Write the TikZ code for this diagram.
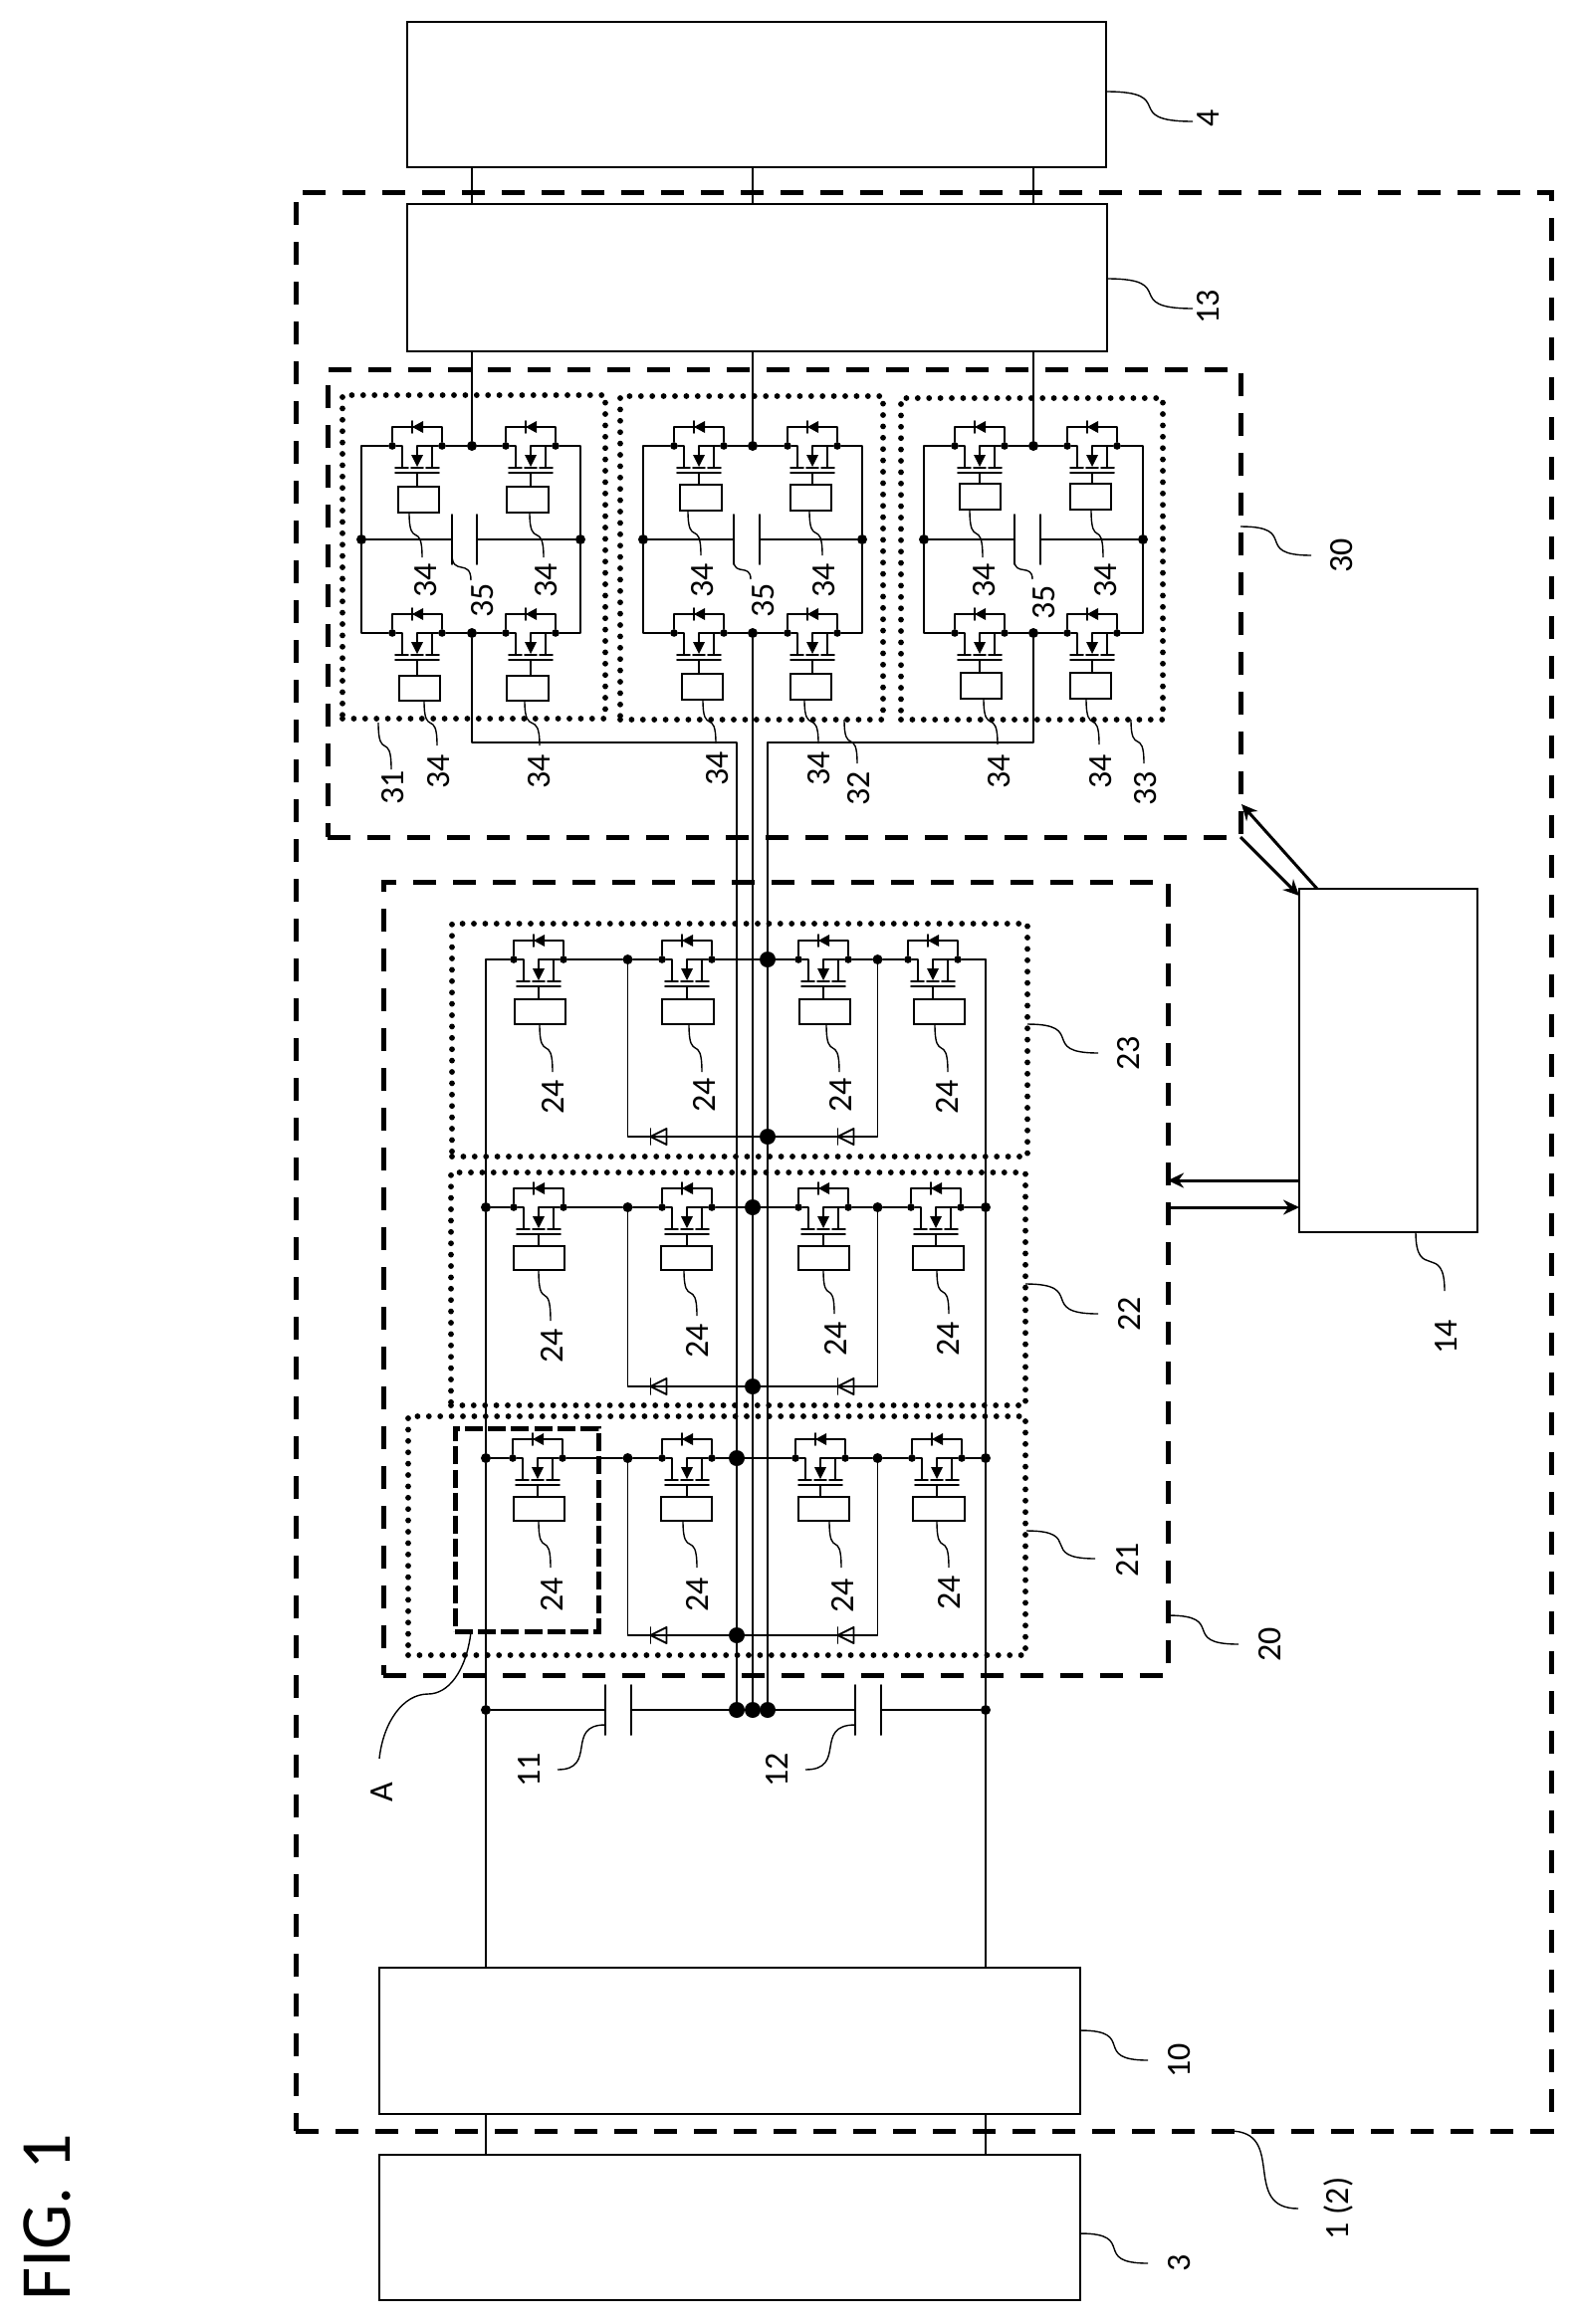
\documentclass[tikz,border=0pt]{standalone}
\usepackage{fontspec}
\setmainfont{Carlito}
\usetikzlibrary{arrows.meta}
\newcounter{ldc}
\tikzset{
  wire/.style={line width=.95pt,line cap=round,line join=round},
  thinwire/.style={line width=.8pt},
  blk/.style={draw,line width=1pt,inner sep=0pt,fill=white},
  drvbox/.style={draw,line width=.95pt,inner sep=0pt},
  sdot/.style={circle,fill=black,inner sep=0pt,minimum size=3.8pt},
  mdot/.style={circle,fill=black,inner sep=0pt,minimum size=5pt},
  bdot/.style={circle,fill=black,inner sep=0pt,minimum size=8pt},
  dashbox/.style={draw,line width=2.5pt,dash pattern=on 11.5pt off 8.5pt},
  dashA/.style={draw,line width=2.5pt,dash pattern=on 9pt off 2.6pt},
  dotbox/.style={draw,line width=2.9pt,dash pattern=on 0pt off 5.7pt,line cap=round},
  leader/.style={line width=.7pt},
  sig/.style={line width=1.5pt,-{Stealth[length=8pt,width=7.5pt]}},
  lbl/.style={rotate=90,inner sep=0pt,text height=10.8pt,text depth=0pt,font=\fontsize{17}{17}\selectfont},
}
% rectangle node from corners
\newcommand\blk[6][blk]{\node[#1,minimum width={(#5-#3)*0.5pt},minimum height={(#6-#4)*0.5pt}] (#2) at ({(#3+#5)/2},{(#4+#6)/2}) {};}
% switching element with body diode
\newcommand\mosfet[3]{%
  \node[sdot] (#1L) at (#2-25,#3) {};
  \node[sdot] (#1R) at (#2+25,#3) {};
  \coordinate (#1dt) at (#2,#3-19);
  \coordinate (#1s) at (#2-15,#3+22);
  \coordinate (#1c) at (#2,#3);
  \coordinate (#1a) at (#2,#3+10);
  \coordinate (#1d) at (#2+15,#3);
  \coordinate (#1e) at (#2+15,#3+22);
  \coordinate (#1G) at (#2,#3+27);
  \draw[wire] (#1L) |- (#1dt) -| (#1R);
  \fill (#2-5,#3-19) -- (#2+6,#3-25) -- (#2+6,#3-13) -- cycle;
  \draw[wire] (#2-5,#3-25) -- (#2-5,#3-13);
  \draw[wire] (#1L) -| (#1s);
  \draw[wire] (#1R) -- (#1c) -- (#1a);
  \draw[wire] (#1d) -- (#1e);
  \fill (#2,#3+21) -- (#2-6,#3+9) -- (#2+6,#3+9) -- cycle;
  \draw[wire] (#2-22,#3+22) -- (#2-9,#3+22) (#2-6,#3+22) -- (#2+6,#3+22) (#2+9,#3+22) -- (#2+22,#3+22);
  \draw[wire] (#2-22,#3+27) -- (#2+22,#3+27);
}
% driver box with gate connection
\newcommand\drv[5]{\blk[drvbox]{#1D}{#2}{#3}{#4}{#5}\draw[wire] (#1G) -- (#1G |- #1D.north);}
% labels and leaders
\newcommand\lab[3]{\stepcounter{ldc}\node[lbl] (t\theldc) at (#1,#2) {#3};}
\newcommand\vlead[4]{\stepcounter{ldc}\coordinate (l\theldc a) at (#1,#2);\coordinate (l\theldc b) at (#3,#4);
  \draw[leader] (l\theldc a) .. controls (#1,{#2+0.85*(#4-#2)}) and (#3,{#4-0.85*(#4-#2)}) .. (l\theldc b);}
\newcommand\hlead[4]{\stepcounter{ldc}\coordinate (l\theldc a) at (#1,#2);\coordinate (l\theldc b) at (#3,#4);
  \draw[leader] (l\theldc a) .. controls ({#1+0.85*(#3-#1)},#2) and ({#3-0.85*(#3-#1)},#4) .. (l\theldc b);}
% wiring of a DC/DC bridge
\newcommand\dcwires[6]{%
  \node[mdot] (#1ML) at (#2,542) {};
  \node[mdot] (#1MR) at (#4,542) {};
  \node[mdot] (#1TC) at (#3,448) {};
  \node[mdot] (#1BC) at (#3,636) {};
  \coordinate (#1C1) at (#5,542);
  \coordinate (#1C2) at (#6,542);
  \draw[wire] (#1TLR) -- (#1TC) -- (#1TRL);
  \draw[wire] (#1BLR) -- (#1BC) -- (#1BRL);
  \draw[wire] (#1TLL) -| (#1ML) |- (#1BLL);
  \draw[wire] (#1TRR) -| (#1MR) |- (#1BRR);
  \draw[wire] (#1ML) -- (#1C1) (#1C2) -- (#1MR);
  \draw[wire] (#5,517) -- (#5,567) (#6,517) -- (#6,567);
}
% open diode on a bottom rail
\newcommand\rdiode[2]{%
  \draw[wire] (#1-8,#2-8) -- (#1-8,#2+8);
  \draw[wire] (#1-8,#2) -- (#1+8,#2-8) -- (#1+8,#2+8) -- cycle;
}
% wiring of a three-level inverter leg
\newcommand\invwires[4]{%
  \node[mdot] (#1I1) at (630.5,#2) {};
  \node[mdot] (#1I2) at (881.5,#2) {};
  \node[bdot] (#1B) at (#4,#2) {};
  \node[bdot] (#1E) at (#4,#3) {};
  \draw[wire] (#1m1R) -- (#1I1) -- (#1m2L);
  \draw[wire] (#1m2R) -- (#1B) -- (#1m3L);
  \draw[wire] (#1m3R) -- (#1I2) -- (#1m4L);
  \draw[wire] (#1I1) |- (#1E);
  \draw[wire] (#1I2) |- (#1E);
  \rdiode{661.5}{#3}
  \rdiode{849.5}{#3}
  \draw[wire] (#1O1) -- (#1m1L);
  \draw[wire] (#1m4R) -- (#1O2);
}
\begin{document}
\begin{tikzpicture}[x=0.5pt,y=-0.5pt]
\fill[white] (0,0) rectangle (1581,2335);
\useasboundingbox (0,0) rectangle (1581,2335);

% title
\node[rotate=90,inner sep=0pt,text height=22.5pt,text depth=0pt,font=\fontsize{36}{36}\selectfont] (fig) at (48,2228) {FIG. 1};

% dashed frames
\node[dashbox,minimum width={(1558-297)*0.5pt},minimum height={(2141-193)*0.5pt}] (frame1) at ({(297+1558)/2},{(193+2141)/2}) {};
\node[dashbox,minimum width={(1246-329)*0.5pt},minimum height={(841-371)*0.5pt}] (frame30) at ({(329+1246)/2},{(371+841)/2}) {};
\node[dashbox,minimum width={(1173-385)*0.5pt},minimum height={(1683-886)*0.5pt}] (frame20) at ({(385+1173)/2},{(886+1683)/2}) {};

% dotted groups
\node[dotbox,minimum width={264*0.5pt},minimum height={325*0.5pt}] (g31) at ({344+132},{397+162.5}) {};
\node[dotbox,minimum width={264*0.5pt},minimum height={325*0.5pt}] (g32) at ({623+132},{398+162.5}) {};
\node[dotbox,minimum width={263*0.5pt},minimum height={323*0.5pt}] (g33) at ({905+131.5},{400+161.5}) {};
\node[dotbox,minimum width={578*0.5pt},minimum height={234*0.5pt}] (g23) at ({454+289},{928+117}) {};
\node[dotbox,minimum width={577*0.5pt},minimum height={234*0.5pt}] (g22) at ({453+288.5},{1178+117}) {};
\node[dotbox,minimum width={620*0.5pt},minimum height={240*0.5pt}] (g21) at ({410+310},{1423+120}) {};
\node[dashA,minimum width={144*0.5pt},minimum height={204*0.5pt}] (frameA) at ({457+72},{1435+102}) {};

% main boxes
\blk{b4}{409}{22}{1111}{168}
\blk{b13}{409}{205}{1112}{353}
\blk{b10}{381}{1977}{1085}{2124}
\blk{b3}{381}{2165}{1085}{2311}
\blk{b14}{1305}{893}{1484}{1238}

% box 4 to box 13, box 13 to bridges
\draw[wire] (b4.south -| 474,0) -- (b13.north -| 474,0);
\draw[wire] (b4.south -| 756,0) -- (b13.north -| 756,0);
\draw[wire] (b4.south -| 1038,0) -- (b13.north -| 1038,0);

% DC/DC bridge 31
\mosfet{p1TL}{419}{448}\mosfet{p1TR}{533}{448}\mosfet{p1BL}{419}{636}\mosfet{p1BR}{533}{636}
\drv{p1TL}{400}{489}{441}{515}\drv{p1TR}{509}{489}{551}{515}\drv{p1BL}{401}{679}{442}{704}\drv{p1BR}{509}{679}{551}{704}
\dcwires{p1}{363}{474}{583}{454}{479}
% DC/DC bridge 32
\mosfet{p2TL}{702}{448}\mosfet{p2TR}{816}{448}\mosfet{p2BL}{702}{636}\mosfet{p2BR}{816}{636}
\drv{p2TL}{683}{487}{725}{513}\drv{p2TR}{794}{487}{835}{513}\drv{p2BL}{685}{677}{726}{703}\drv{p2BR}{794}{677}{835}{703}
\dcwires{p2}{646}{756}{866}{737}{763}
% DC/DC bridge 33
\mosfet{p3TL}{984}{448}\mosfet{p3TR}{1097}{448}\mosfet{p3BL}{984}{636}\mosfet{p3BR}{1097}{636}
\drv{p3TL}{964}{486}{1005}{512}\drv{p3TR}{1075}{486}{1116}{512}\drv{p3BL}{965}{676}{1006}{702}\drv{p3BR}{1075}{676}{1116}{702}
\dcwires{p3}{928}{1038}{1148}{1019}{1045}
\draw[wire] (b13.south -| p1TC) -- (p1TC);
\draw[wire] (b13.south -| p2TC) -- (p2TC);
\draw[wire] (b13.south -| p3TC) -- (p3TC);

% neutral capacitor row nodes
\node[mdot] (c488) at (488,1718) {};
\node[mdot] (c990) at (990,1718) {};
\node[bdot] (c740) at (740,1718) {};
\node[bdot] (c756) at (756,1718) {};
\node[bdot] (c771) at (771,1718) {};
\coordinate (j740) at (740,746);
\coordinate (j771) at (771,746);
\draw[wire] (p1BC) |- (j740) -- (c740);
\draw[wire] (p2BC) -- (c756);
\draw[wire] (p3BC) |- (j771) -- (c771);
\coordinate (k11a) at (608,1718);\coordinate (k11b) at (634,1718);
\coordinate (k12a) at (859,1718);\coordinate (k12b) at (885,1718);
\draw[wire] (c488) -- (k11a) (k11b) -- (c740) (c771) -- (k12a) (k12b) -- (c990);
\draw[wire] (608,1693) -- (608,1743) (634,1693) -- (634,1743) (859,1693) -- (859,1743) (885,1693) -- (885,1743);

% inverter leg 23
\mosfet{u3m1}{541}{964}\mosfet{u3m2}{690}{964}\mosfet{u3m3}{827}{964}\mosfet{u3m4}{937}{964}
\drv{u3m1}{517}{1004}{568}{1029}\drv{u3m2}{665}{1004}{717}{1029}\drv{u3m3}{803}{1004}{854}{1029}\drv{u3m4}{918}{1004}{969}{1029}
\coordinate (u3O1) at (488,964);\coordinate (u3O2) at (990,964);
\invwires{u3}{964}{1142}{771}
% inverter leg 22
\mosfet{u2m1}{541}{1213}\mosfet{u2m2}{690}{1213}\mosfet{u2m3}{827}{1213}\mosfet{u2m4}{940}{1213}
\drv{u2m1}{516}{1252}{567}{1276}\drv{u2m2}{664}{1252}{715}{1276}\drv{u2m3}{802}{1252}{853}{1276}\drv{u2m4}{917}{1252}{968}{1276}
\node[mdot] (u2O1) at (488,1213) {};\node[mdot] (u2O2) at (990,1213) {};
\invwires{u2}{1213}{1393}{756}
% inverter leg 21
\mosfet{u1m1}{540}{1465}\mosfet{u1m2}{690}{1465}\mosfet{u1m3}{824}{1465}\mosfet{u1m4}{941}{1465}
\drv{u1m1}{516}{1504}{567}{1528}\drv{u1m2}{664}{1504}{715}{1528}\drv{u1m3}{802}{1504}{853}{1528}\drv{u1m4}{917}{1504}{969}{1528}
\node[mdot] (u1O1) at (488,1465) {};\node[mdot] (u1O2) at (990,1465) {};
\invwires{u1}{1465}{1643}{740}

% DC rails
\draw[thinwire] (b3.north -| c488) -- (b10.south -| c488);
\draw[thinwire] (b3.north -| c990) -- (b10.south -| c990);
\draw[wire] (b10.north -| c488) -- (c488) -- (u1O1) -- (u2O1) -- (u3O1);
\draw[wire] (b10.north -| c990) -- (c990) -- (u1O2) -- (u2O2) -- (u3O2);

% signal arrows
\coordinate (s1a) at (1323,893);\coordinate (s1b) at (1247,808);
\coordinate (s2a) at (1246,841);\coordinate (s2b) at (1305,900);
\coordinate (s3a) at (1305,1186);\coordinate (s3b) at (1173,1186);
\coordinate (s4a) at (1173,1213);\coordinate (s4b) at (1305,1213);
\draw[sig] (s1a) -- (s1b);
\draw[sig] (s2a) -- (s2b);
\draw[sig] (s3a) -- (s3b);
\draw[sig] (s4a) -- (s4b);

% reference numerals: top
\hlead{1111}{92}{1198}{122}\lab{1214}{119}{4}
\hlead{1112}{280}{1198}{310}\lab{1214}{308}{13}
\hlead{1246}{529}{1317}{558}\lab{1348}{558}{30}
\hlead{1173}{1623}{1244}{1652}\lab{1276}{1652}{20}
\hlead{1031}{1538}{1100}{1566}\lab{1133}{1567}{21}
\hlead{1030}{1290}{1103}{1320}\lab{1135}{1320}{22}
\hlead{1032}{1029}{1103}{1058}\lab{1134}{1058}{23}
\vlead{1422}{1238}{1451}{1297}\lab{1453}{1343}{14}
\hlead{1085}{2040}{1153}{2070}\lab{1185}{2070}{10}
\hlead{1085}{2244}{1153}{2274}\lab{1185}{2274}{3}
\hlead{1235}{2141}{1304}{2219}\lab{1344}{2219}{1 (2)}
\hlead{608}{1733}{560}{1778}\lab{532}{1778}{11}
\hlead{859}{1733}{809}{1778}\lab{781}{1778}{12}
\coordinate (la1) at (473,1640);\coordinate (la2) at (430,1702);\coordinate (la3) at (381,1767);
\draw[leader] (la1) .. controls (468,1680) and (450,1702) .. (la2) .. controls (405,1702) and (385,1730) .. (la3);
\lab{384}{1801}{A}
% bridge numerals
\vlead{380}{726}{393}{773}\lab{395}{791}{31}
\vlead{848}{723}{861}{767}\lab{863}{792}{32}
\vlead{1136}{723}{1149}{767}\lab{1151}{792}{33}
\vlead{411}{515}{424}{560}\lab{428}{583}{34}
\vlead{532}{515}{546}{560}\lab{549}{583}{34}
\vlead{426}{704}{439}{749}\lab{441}{775}{34}
\vlead{527}{704}{542}{749}\lab{542}{775}{34}
\vlead{691}{513}{704}{558}\lab{706}{583}{34}
\vlead{813}{513}{826}{558}\lab{828}{583}{34}
\vlead{706}{703}{719}{747}\lab{721}{772}{34}
\vlead{808}{703}{822}{747}\lab{823}{772}{34}
\vlead{974}{512}{987}{560}\lab{989}{583}{34}
\vlead{1096}{512}{1108}{560}\lab{1111}{583}{34}
\vlead{988}{702}{1002}{748}\lab{1004}{775}{34}
\vlead{1091}{702}{1104}{748}\lab{1106}{775}{34}
\vlead{454}{557}{473}{583}\lab{485}{603}{35}
\vlead{737}{563}{754}{582}\lab{767}{603}{35}
\vlead{1019}{563}{1037}{582}\lab{1049}{605}{35}
% inverter numerals
\vlead{542}{1029}{555}{1077}\lab{556}{1102}{24}
\vlead{692}{1029}{705}{1077}\lab{708}{1100}{24}
\vlead{830}{1029}{843}{1077}\lab{845}{1100}{24}
\vlead{939}{1029}{952}{1077}\lab{952}{1102}{24}
\vlead{541}{1276}{553}{1327}\lab{555}{1352}{24}
\vlead{687}{1276}{700}{1322}\lab{701}{1347}{24}
\vlead{827}{1276}{838}{1320}\lab{840}{1345}{24}
\vlead{941}{1276}{953}{1320}\lab{953}{1345}{24}
\vlead{541}{1528}{553}{1575}\lab{555}{1602}{24}
\vlead{686}{1528}{700}{1575}\lab{701}{1602}{24}
\vlead{833}{1528}{845}{1575}\lab{847}{1603}{24}
\vlead{941}{1528}{953}{1575}\lab{954}{1600}{24}
\end{tikzpicture}
\end{document}
